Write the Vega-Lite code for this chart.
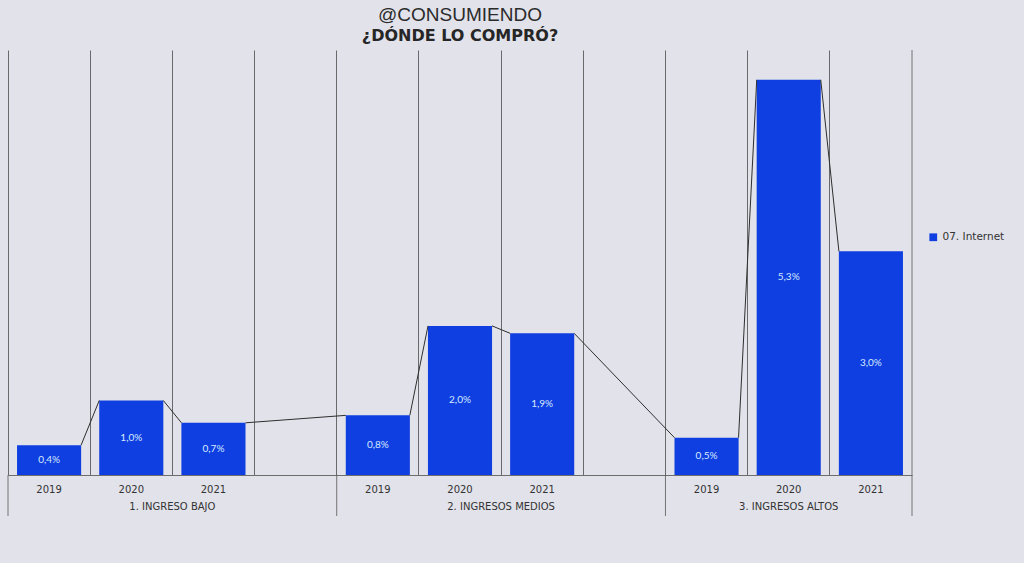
{
  "$schema": "https://vega.github.io/schema/vega-lite/v6.json",
  "width": 904,
  "height": 425,
  "autosize": {"type": "none"},
  "padding": {"left": 8, "top": 50, "right": 112, "bottom": 88},
  "background": "#e2e2ea",
  "config": {
    "view": {"stroke": null},
    "font": "Lato",
    "locale": {"number": {"decimal": ",", "thousands": ".", "grouping": [3], "currency": ["", " €"]}}
  },
  "title": {
    "text": "@CONSUMIENDO",
    "subtitle": "¿DÓNDE LO COMPRÓ?",
    "anchor": "middle",
    "font": "Liberation Sans",
    "fontSize": 19,
    "fontWeight": "normal",
    "color": "#2b2b2b",
    "subtitleFont": "DejaVu Sans",
    "subtitleFontSize": 16,
    "subtitleFontWeight": "bold",
    "subtitleColor": "#262626",
    "subtitlePadding": 3,
    "offset": 6
  },
  "data": {
    "values": [
      {"grupo": "1. INGRESO BAJO", "anio": "2019", "cat": "B-2019", "valor": 0.004},
      {"grupo": "1. INGRESO BAJO", "anio": "2020", "cat": "B-2020", "valor": 0.010},
      {"grupo": "1. INGRESO BAJO", "anio": "2021", "cat": "B-2021", "valor": 0.007},
      {"grupo": "2. INGRESOS MEDIOS", "anio": "2019", "cat": "M-2019", "valor": 0.008},
      {"grupo": "2. INGRESOS MEDIOS", "anio": "2020", "cat": "M-2020", "valor": 0.020},
      {"grupo": "2. INGRESOS MEDIOS", "anio": "2021", "cat": "M-2021", "valor": 0.019},
      {"grupo": "3. INGRESOS ALTOS", "anio": "2019", "cat": "A-2019", "valor": 0.005},
      {"grupo": "3. INGRESOS ALTOS", "anio": "2020", "cat": "A-2020", "valor": 0.053},
      {"grupo": "3. INGRESOS ALTOS", "anio": "2021", "cat": "A-2021", "valor": 0.030}
    ]
  },
  "layer": [
    {
      "layer": [
        {
          "mark": {"type": "bar", "width": {"band": 0.78}},
          "encoding": {
            "x": {
              "field": "cat",
              "type": "nominal",
              "sort": null,
              "scale": {
                "domain": ["B-2019", "B-2020", "B-2021", "B-", "M-2019", "M-2020", "M-2021", "M-", "A-2019", "A-2020", "A-2021"],
                "paddingInner": 0,
                "paddingOuter": 0
              },
              "axis": {
                "title": null,
                "labelExpr": "slice(datum.value, 2)",
                "labelAngle": 0,
                "labelFont": "DejaVu Sans",
                "grid": true,
                "bandPosition": 0,
                "gridColor": "#4a4a4a",
                "gridWidth": 0.8,
                "ticks": false,
                "domainColor": "#6d6d6d",
                "labelColor": "#333333",
                "labelFontSize": 10,
                "labelPadding": 9
              }
            },
            "y": {
              "field": "valor",
              "type": "quantitative",
              "scale": {"domain": [0, 0.057], "nice": false},
              "axis": null
            },
            "color": {
              "datum": "07. Internet",
              "scale": {"range": ["#0f3fe0"]},
              "legend": {
                "title": null,
                "orient": "none",
                "legendX": 920,
                "legendY": 182,
                "symbolType": "square",
                "symbolSize": 60,
                "labelFont": "DejaVu Sans",
                "labelFontSize": 10.5,
                "labelColor": "#333333"
              }
            }
          }
        },
        {
          "transform": [
            {"window": [
              {"op": "lead", "field": "cat", "as": "sig_cat"},
              {"op": "lead", "field": "valor", "as": "sig_valor"}
            ]},
            {"filter": "datum.sig_cat != null"}
          ],
          "mark": {"type": "rule", "color": "#2e2e2e", "strokeWidth": 1, "xOffset": 32, "x2Offset": -32},
          "encoding": {
            "x": {"field": "cat", "type": "nominal"},
            "x2": {"field": "sig_cat"},
            "y": {"field": "valor", "type": "quantitative"},
            "y2": {"field": "sig_valor"}
          }
        },
        {
          "transform": [{"filter": "datum.anio == '2019'"}],
          "mark": {"type": "rule", "color": "#555555", "strokeWidth": 0.8},
          "encoding": {
            "x": {"field": "cat", "type": "nominal", "bandPosition": 0},
            "y": {"datum": 0, "type": "quantitative"},
            "y2": {"datum": -0.0055}
          }
        },
        {
          "transform": [{"filter": "datum.cat == 'A-2021'"}],
          "mark": {"type": "rule", "color": "#555555", "strokeWidth": 0.8},
          "encoding": {
            "x": {"field": "cat", "type": "nominal", "bandPosition": 1},
            "y": {"datum": -0.0055, "type": "quantitative"},
            "y2": {"datum": 0.057}
          }
        },
        {
          "transform": [{"filter": "datum.anio == '2020' && datum.grupo != '3. INGRESOS ALTOS'"}],
          "mark": {"type": "text", "font": "DejaVu Sans", "fontSize": 10, "color": "#333333", "baseline": "middle", "dy": 32},
          "encoding": {
            "x": {"field": "cat", "type": "nominal", "bandPosition": 1},
            "y": {"datum": 0, "type": "quantitative"},
            "text": {"field": "grupo"}
          }
        },
        {
          "transform": [{"filter": "datum.anio == '2020' && datum.grupo == '3. INGRESOS ALTOS'"}],
          "mark": {"type": "text", "font": "DejaVu Sans", "fontSize": 10, "color": "#333333", "baseline": "middle", "dy": 32},
          "encoding": {
            "x": {"field": "cat", "type": "nominal", "bandPosition": 0.5},
            "y": {"datum": 0, "type": "quantitative"},
            "text": {"field": "grupo"}
          }
        }
      ]
    },
    {
      "mark": {"type": "text", "color": "#d6eaff", "fontSize": 10, "baseline": "middle"},
      "encoding": {
        "x": {"field": "cat", "type": "nominal"},
        "y": {
          "field": "valor",
          "type": "quantitative",
          "scale": {"domain": [0, 0.114], "nice": false},
          "axis": null
        },
        "text": {"field": "valor", "type": "quantitative", "format": ".1%"}
      }
    }
  ],
  "resolve": {"scale": {"y": "independent"}}
}
